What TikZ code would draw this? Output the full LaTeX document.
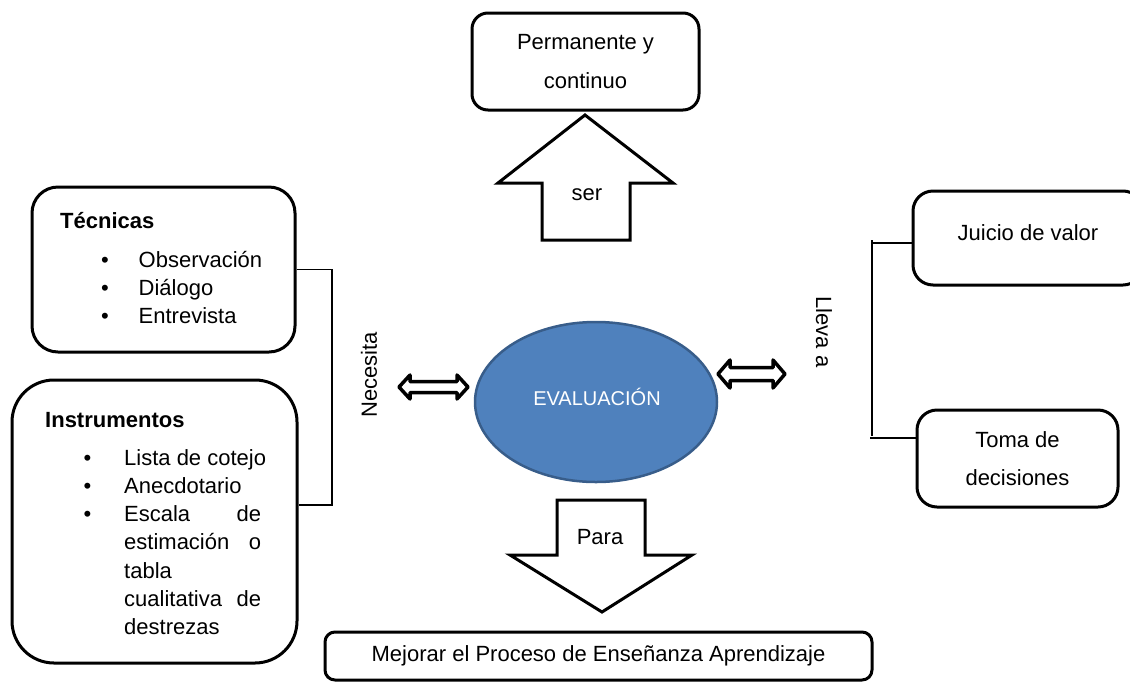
\documentclass[tikz,border=0pt]{standalone}
\usepackage{fontspec}
\setmainfont{Liberation Sans}
\usetikzlibrary{shapes.geometric}
\definecolor{evalfill}{HTML}{4F81BD}
\definecolor{evaldraw}{HTML}{385D8A}
\newcommand\diagfont{\fontsize{22}{28.3}\selectfont}
\newcommand\justline[1]{\makebox[137pt][l]{#1}}
\begin{document}
\begin{tikzpicture}[x=1pt,y=-1pt,
  font=\diagfont,
  box/.style={draw, line width=3, fill=white, inner sep=0, align=center},
  blockarrow/.style={draw, line width=3, fill=white, line join=miter},
  dblarrow/.style={draw, line width=3.5, fill=white, line join=round},
  conn/.style={line width=1.2},
  lbl/.style={inner sep=0}
]
\useasboundingbox (0,0) rectangle (1130,681);

% boxes
\node[box, rounded corners=16, minimum width=227, minimum height=97,
      font=\fontsize{22}{39}\selectfont] (perm) at (585.5,61.5) {Permanente y\\continuo};
\node[box, rounded corners=26, minimum width=263, minimum height=165] (tec) at (163.5,269.5) {};
\node[box, rounded corners=42, minimum width=285, minimum height=283] (inst) at (154.5,521.5) {};
\node[box, rounded corners=20, minimum width=230, minimum height=94] (jui) at (1028,238) {};
\node[lbl] (juit) at (1028,233) {Juicio de valor};
\node[box, rounded corners=20, minimum width=201, minimum height=97,
      font=\fontsize{22}{38}\selectfont] (toma) at (1017.5,458.5) {Toma de\\decisiones};
\node[box, rounded corners=10, minimum width=547, minimum height=48] (mej) at (598.5,656) {Mejorar el Proceso de Enseñanza Aprendizaje};

% centre ellipse
\node[ellipse, draw=evaldraw, fill=evalfill, line width=2.5, minimum width=242, minimum height=160,
      inner sep=0] (eval) at (596,402) {};
\node[lbl, text=white, font=\fontsize{20}{24}\selectfont] (evalt) at (597,397) {EVALUACIÓN};

% box contents
\node[lbl, anchor=base west, font=\diagfont\bfseries] (tect) at (60,228) {Técnicas};
\node[lbl, anchor=base west] (tecl) at (101,267)
  {\begin{tabular}[t]{@{}p{37.5pt}@{}l@{}}
   \textbullet & Observación\\
   \textbullet & Diálogo\\
   \textbullet & Entrevista
   \end{tabular}};
\node[lbl, anchor=base west, font=\diagfont\bfseries] (instt) at (45,427) {Instrumentos};
\node[lbl, anchor=base west] (instl) at (83.5,465)
  {\begin{tabular}[t]{@{}p{40.5pt}@{}l@{}}
   \textbullet & Lista de cotejo\\
   \textbullet & Anecdotario\\
   \textbullet & \justline{Escala\hfill de}\\
               & \justline{estimación\hfill o}\\
               & tabla\\
               & \justline{cualitativa\hfill de}\\
               & destrezas
   \end{tabular}};

% rotated labels
\node[lbl, rotate=90] (nec) at (369,375) {Necesita};
\node[lbl, rotate=-90] (lle) at (824,332) {Lleva a};

% block arrows
\draw[blockarrow] (585,115) -- (673,183) -- (630,183) -- (630,240) -- (542,240) -- (542,183) -- (498,183) -- cycle;
\node[lbl] (ser) at (587,195) {ser};
\draw[blockarrow] (557,500) -- (645,500) -- (645,555) -- (692,555) -- (602,612) -- (510,555) -- (557,555) -- cycle;
\node[lbl] (para) at (600,537) {Para};

% double arrows
\draw[dblarrow] (399,387) -- (410,375) -- (410,381.5) -- (457,381.5) -- (457,375) -- (468,387)
  -- (457,399) -- (457,392.5) -- (410,392.5) -- (410,399) -- cycle;
\draw[dblarrow] (718,374) -- (730,360) -- (730,367.5) -- (773,367.5) -- (773,360) -- (785,374)
  -- (773,388) -- (773,380.5) -- (730,380.5) -- (730,388) -- cycle;

% connectors left
\coordinate (lbot) at (332,505);
\draw[conn] (tec.east) -| (lbot) -- (inst.east |- lbot);

% connectors right
\coordinate (rtop) at (872,243);
\coordinate (rbot) at (872,438);
\draw[conn] (872,240) -- (872,436);
\draw[conn] (rtop) -- (jui.west |- rtop);
\draw[conn] (870,438) -- (toma.west |- rbot);
\end{tikzpicture}
\end{document}
